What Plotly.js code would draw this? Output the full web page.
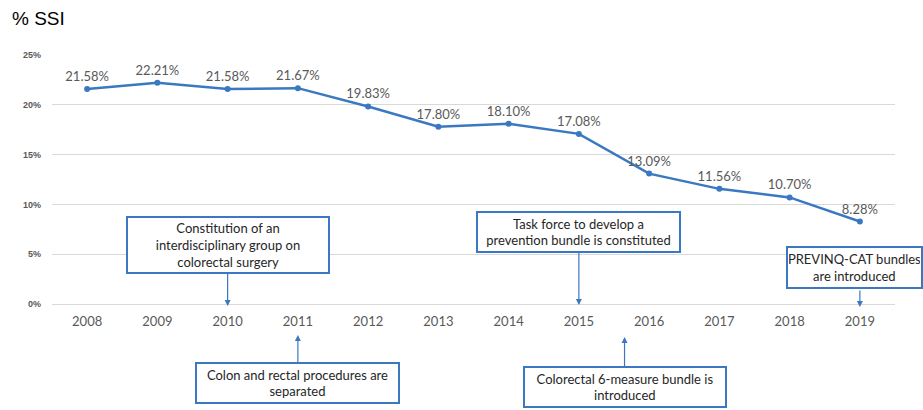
<!DOCTYPE html>
<html>
<head>
<meta charset="utf-8">
<script src="https://cdn.plot.ly/plotly-3.0.1.min.js"></script>
<style>html,body{margin:0;padding:0;background:#fff;}#chart{width:923px;height:410px;}</style>
</head>
<body>
<div id="chart"></div>
<script>
const years = ['2008','2009','2010','2011','2012','2013','2014','2015','2016','2017','2018','2019'];
const ssiPct = [21.58, 22.21, 21.58, 21.67, 19.83, 17.80, 18.10, 17.08, 13.09, 11.56, 10.70, 8.28];
const yTickVals = [0, 5, 10, 15, 20, 25];
const yTickText = ['0%', '5%', '10%', '15%', '20%', '25%'];
const eventTexts = [
  'Constitution of an<br>interdisciplinary group on<br>colorectal surgery',
  'Colon and rectal procedures are<br>separated',
  'Task force to develop a<br>prevention bundle is constituted',
  'Colorectal 6-measure bundle is<br>introduced',
  'PREVINQ-CAT bundles<br>are introduced'
];
const eventYearIndex = [2, 3, 7, 7.65, 11];

const blue = '#3A79C1';
const labelFont = {family: 'Lato, "Liberation Sans", sans-serif', size: 13, color: '#595959'};
const boxFont = {family: 'Lato, "Liberation Sans", sans-serif', size: 13, color: '#262626'};

const boxes = [
  {head: -0.004, ax: 0, ay: -61, w: 198, h: 52},
  {head: -0.12, ax: 0, ay: 48, w: 199, h: 36},
  {head: 0.0, ax: 0, ay: -73, w: 199, h: 36},
  {head: -0.127, ax: 0, ay: 50, w: 198, h: 36}
];

const annotations = boxes.map((b, i) => ({
  x: eventYearIndex[i], y: b.head, xref: 'x', yref: 'paper',
  text: eventTexts[i], showarrow: true, ax: b.ax, ay: b.ay,
  arrowhead: 2, arrowsize: 1, arrowwidth: 1.2, arrowcolor: blue,
  bordercolor: blue, borderwidth: 2, borderpad: 1, bgcolor: '#ffffff',
  width: b.w, height: b.h, align: 'center', font: boxFont
}));
// last event: box kept inside the page, arrow drawn separately so it stays vertical
annotations.push({
  x: 1 + 28/843, xref: 'paper', xanchor: 'right', y: (305 - 267.5)/251, yref: 'paper', yanchor: 'middle',
  text: eventTexts[4], showarrow: false,
  bordercolor: blue, borderwidth: 2, borderpad: 1, bgcolor: '#ffffff',
  width: 131, height: 37, align: 'center', font: boxFont
});
annotations.push({
  x: eventYearIndex[4], xref: 'x', y: -0.008, yref: 'paper', text: '',
  showarrow: true, ax: 0, ay: -18, arrowhead: 2, arrowsize: 1, arrowwidth: 1.2, arrowcolor: blue
});

const trace = {
  x: years.map((y, i) => i), y: ssiPct,
  mode: 'lines+markers+text',
  text: ssiPct.map(v => v.toFixed(2) + '%'),
  textposition: 'top center',
  textfont: labelFont,
  line: {color: blue, width: 2.5},
  marker: {color: blue, size: 6},
  cliponaxis: false,
  hoverinfo: 'none'
};

const layout = {
  width: 923, height: 410,
  margin: {l: 52, r: 28, t: 54, b: 105},
  paper_bgcolor: '#ffffff', plot_bgcolor: '#ffffff',
  showlegend: false,
  title: {text: '% SSI', xref: 'container', yref: 'container', x: 12/923, xanchor: 'left', y: 1 - 18/410, yanchor: 'middle',
          font: {family: '"Liberation Sans", Arial, sans-serif', size: 19, color: '#000000'}},
  xaxis: {
    range: [-0.5, 11.5], tickmode: 'array', tickvals: years.map((y, i) => i), ticktext: years,
    showgrid: false, zeroline: false, showline: false, ticks: '', ticklabelstandoff: 7,
    tickfont: {family: 'Lato, "Liberation Sans", sans-serif', size: 13, color: '#595959'}
  },
  yaxis: {
    range: [-0.1, 25.1], tickmode: 'array', tickvals: yTickVals, ticktext: yTickText,
    showgrid: true, gridcolor: '#D9D9D9', gridwidth: 1,
    zeroline: true, zerolinecolor: '#D9D9D9', zerolinewidth: 1, showline: false, ticks: '',
    ticklabelstandoff: 10,
    tickfont: {family: '"Liberation Sans", Arial, sans-serif', size: 9, color: '#595959', weight: 'bold'}
  },
  annotations: annotations
};

Plotly.newPlot('chart', [trace], layout, {displayModeBar: false, staticPlot: true});
</script>
</body>
</html>
